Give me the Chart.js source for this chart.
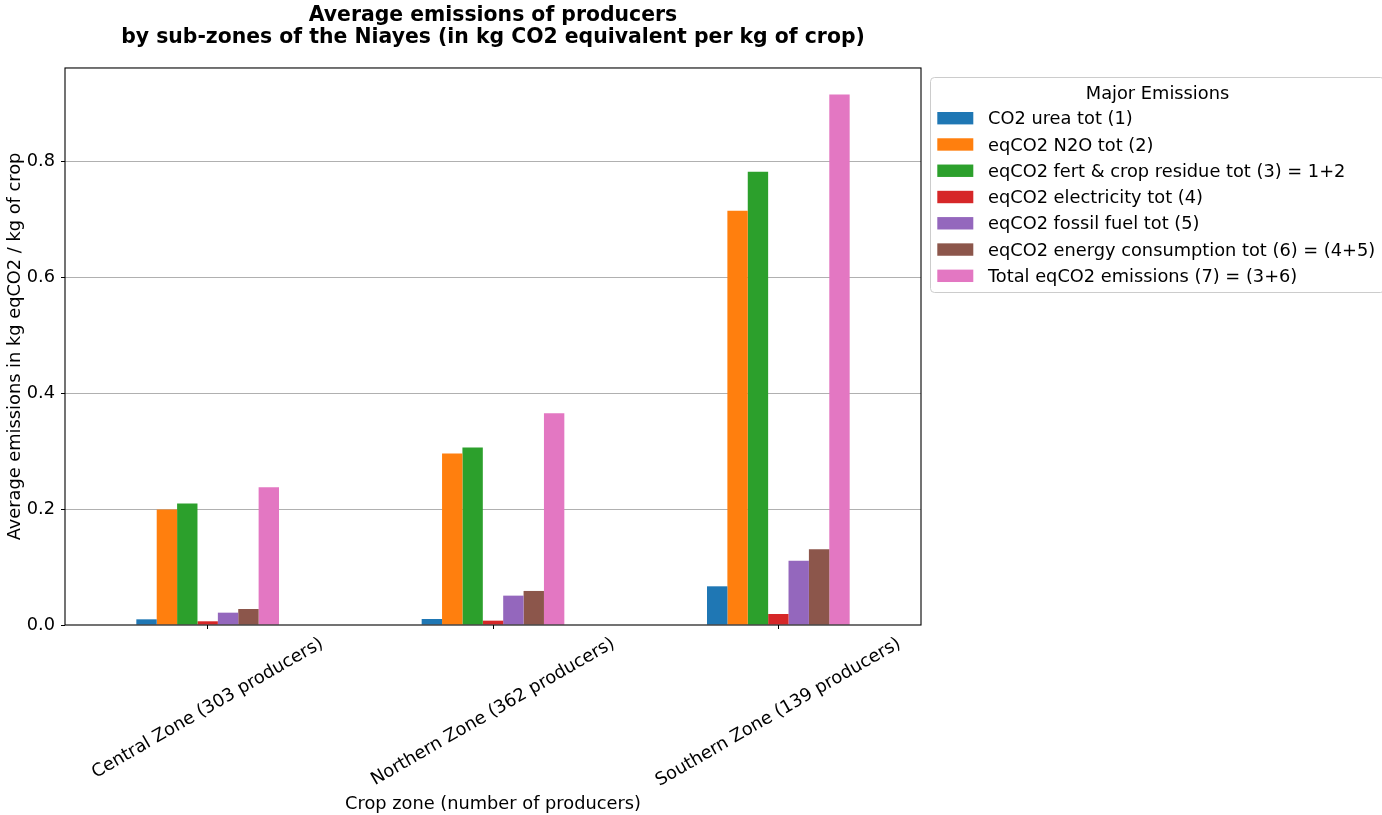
<!DOCTYPE html>
<html>
<head>
<meta charset="utf-8">
<script src="https://cdn.jsdelivr.net/npm/chart.js@4.4.1/dist/chart.umd.min.js"></script>
<style>
  html, body { margin: 0; padding: 0; background: #fff; }
</style>
</head>
<body>
<canvas id="emissionsChart" width="1382" height="815"></canvas>
<script>
// values (kg eqCO2 / kg of crop)
const zones = ['Central Zone (303 producers)', 'Northern Zone (362 producers)', 'Southern Zone (139 producers)'];
const co2Urea = [0.0098, 0.0104, 0.0668];
const n2o = [0.1995, 0.2960, 0.7153];
const fertResidue = [0.2097, 0.3064, 0.7827];
const electricity = [0.0064, 0.0075, 0.0190];
const fossilFuel = [0.0213, 0.0507, 0.1110];
const energyUse = [0.0276, 0.0588, 0.1310];
const totalEmissions = [0.2380, 0.3658, 0.9158];

const seriesLabels = [
  'CO2 urea tot (1)',
  'eqCO2 N2O tot (2)',
  'eqCO2 fert & crop residue tot (3) = 1+2',
  'eqCO2 electricity tot (4)',
  'eqCO2 fossil fuel tot (5)',
  'eqCO2 energy consumption tot (6) = (4+5)',
  'Total eqCO2 emissions (7) = (3+6)'
];
const seriesColors = ['#1f77b4', '#ff7f0e', '#2ca02c', '#d62728', '#9467bd', '#8c564b', '#e377c2'];
const seriesValues = [co2Urea, n2o, fertResidue, electricity, fossilFuel, energyUse, totalEmissions];

const FONT = 'DejaVu Sans';
const TEXT_SIZE = 17.8;

Chart.defaults.font.family = FONT;
Chart.defaults.color = '#000';

// x labels centred on ticks (matplotlib style), frame and legend box
const decorPlugin = {
  id: 'decor',
  afterDraw(chart) {
    const { ctx, chartArea: a } = chart;
    const xScale = chart.scales.x;
    ctx.save();
    ctx.font = `${TEXT_SIZE}px "${FONT}"`;
    ctx.fillStyle = '#000';
    ctx.textAlign = 'center';
    ctx.textBaseline = 'middle';
    const ang = Math.PI / 6;
    const h = TEXT_SIZE * 1.17;
    zones.forEach((label, i) => {
      const w = ctx.measureText(label).width;
      const boxH = w * Math.sin(ang) + h * Math.cos(ang);
      ctx.save();
      ctx.translate(xScale.getPixelForTick(i), a.bottom + 8.4 + boxH / 2);
      ctx.rotate(-ang);
      ctx.fillText(label, 0, 0);
      ctx.restore();
    });

    ctx.strokeStyle = '#000';
    ctx.lineWidth = 1.1;
    ctx.strokeRect(a.left, a.top, a.right - a.left, a.bottom - a.top);

    // legend
    const lx = 930.5, ly = 77.5, lw = 454, lh = 215;
    ctx.beginPath();
    ctx.roundRect(lx, ly, lw, lh, 4);
    ctx.fillStyle = 'rgba(255,255,255,0.8)';
    ctx.fill();
    ctx.strokeStyle = '#cccccc';
    ctx.lineWidth = 1;
    ctx.stroke();
    ctx.fillStyle = '#000';
    ctx.textAlign = 'center';
    ctx.fillText('Major Emissions', lx + lw / 2, 94.2);
    ctx.textAlign = 'left';
    chart.data.datasets.forEach((ds, i) => {
      const cy = 118.2 + i * 26.27;
      ctx.fillStyle = ds.backgroundColor;
      ctx.fillRect(937.3, cy - 6.2, 36, 12.4);
      ctx.fillStyle = '#000';
      ctx.fillText(ds.label, 988, cy + 1.5);
    });
    ctx.restore();
  }
};

new Chart(document.getElementById('emissionsChart'), {
  type: 'bar',
  data: {
    labels: zones,
    datasets: seriesLabels.map((label, i) => ({
      label,
      data: seriesValues[i],
      backgroundColor: seriesColors[i],
      borderWidth: 0,
      categoryPercentage: 0.5,
      barPercentage: 1.0
    }))
  },
  options: {
    responsive: false,
    animation: false,
    devicePixelRatio: 1,
    layout: { padding: { left: 3, right: 461, top: 0, bottom: 0 } },
    plugins: {
      legend: { display: false },
      tooltip: { enabled: false },
      title: {
        display: true,
        fullSize: false,
        text: ['Average emissions of producers', 'by sub-zones of the Niayes (in kg CO2 equivalent per kg of crop)'],
        color: '#000',
        font: { family: FONT, size: 20.4, weight: 'bold', lineHeight: 1.1 },
        padding: { top: 4.4, bottom: 18.7 }
      }
    },
    scales: {
      x: {
        offset: true,
        afterFit: s => { s.height = 190; },
        border: { display: false },
        grid: { display: true, offset: false, drawOnChartArea: false, drawTicks: true, tickLength: 4, tickColor: '#000', tickWidth: 1 },
        ticks: { display: false },
        title: {
          display: true,
          text: 'Crop zone (number of producers)',
          color: '#000',
          font: { size: TEXT_SIZE },
          padding: { top: 0, bottom: 0.3 }
        }
      },
      y: {
        min: 0,
        max: 0.9618,
        z: 1,
        afterFit: s => { s.width = 62; },
        border: { display: false },
        grid: {
          color: c => (c.tick && c.tick.value === 0 ? 'rgba(0,0,0,0)' : '#b0b0b0'),
          lineWidth: 1,
          tickColor: '#000',
          tickLength: 4,
          tickWidth: 1
        },
        ticks: {
          stepSize: 0.2,
          includeBounds: false,
          padding: 6,
          color: '#000',
          font: { size: TEXT_SIZE },
          callback: v => v.toFixed(1)
        },
        title: {
          display: true,
          text: 'Average emissions in kg eqCO2 / kg of crop',
          color: '#000',
          font: { size: TEXT_SIZE },
          padding: { top: 1.5, bottom: 0 }
        }
      }
    }
  },
  plugins: [decorPlugin]
});
</script>
</body>
</html>
